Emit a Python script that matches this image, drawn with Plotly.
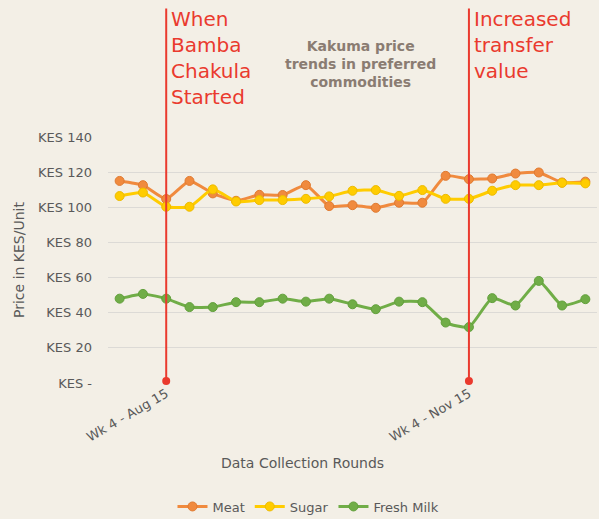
import plotly.graph_objects as go

rounds = ["Wk 2 - Aug 15", "Wk 3 - Aug 15", "Wk 4 - Aug 15", "Wk 1 - Sep 15", "Wk 2 - Sep 15",
          "Wk 3 - Sep 15", "Wk 4 - Sep 15", "Wk 5 - Sep 15", "Wk 1 - Oct 15", "Wk 2 - Oct 15",
          "Wk 3 - Oct 15", "Wk 4 - Oct 15", "Wk 1 - Nov 15", "Wk 2 - Nov 15", "Wk 3 - Nov 15",
          "Wk 4 - Nov 15", "Wk 1 - Dec 15", "Wk 2 - Dec 15", "Wk 3 - Dec 15", "Wk 4 - Dec 15",
          "Wk 1 - Jan 16"]
meat = [115, 112.6, 104.7, 115, 107.9, 103.7, 107.1, 107, 112.6, 100.7, 101.2, 99.7,
        102.6, 102.6, 117.9, 116, 116.4, 119.2, 119.8, 114.1, 114.6]
sugar = [106.4, 108.4, 100.3, 100.3, 110.2, 103.3, 104.1, 104.1, 104.8, 106.2, 109.4, 109.8,
         106.5, 109.8, 104.8, 104.8, 109.4, 112.6, 112.6, 113.9, 113.6]
milk = [48, 50.7, 48, 43.2, 43.2, 46, 46, 48, 46.3, 48, 44.8, 42, 46.3, 46, 34.4, 31.8,
        48.3, 44.1, 58.1, 44.1, 47.7]

series_names = ["Meat", "Sugar", "Fresh Milk"]
series_colors = ["#F08A3E", "#FFCC00", "#70AD47"]
marker_edges = ["#E07A30", "#EDBB00", "#62A03C"]

y_tickvals = [0, 20, 40, 60, 80, 100, 120, 140]
y_ticktext = ["KES -", "KES 20", "KES 40", "KES 60", "KES 80", "KES 100", "KES 120", "KES 140"]
x_tickvals = ["Wk 4 - Aug 15", "Wk 4 - Nov 15"]

events = ["Wk 4 - Aug 15", "Wk 4 - Nov 15"]
event_labels = ["When<br>Bamba<br>Chakula<br>Started", "Increased<br>transfer<br>value"]

FONT = "DejaVu Sans"
RED = "#EA3A2E"

fig = go.Figure()
for name, vals, col, edge in zip(series_names, [meat, sugar, milk], series_colors, marker_edges):
    fig.add_trace(go.Scatter(
        x=rounds, y=vals, name=name, mode="lines+markers",
        line=dict(color=col, width=3, shape="spline", smoothing=0.5),
        marker=dict(color=col, size=9, line=dict(color=edge, width=1)),
    ))

# event marker dots at the base of the vertical lines
fig.add_trace(go.Scatter(
    x=events, y=[1.2, 1.2], mode="markers", showlegend=False, hoverinfo="skip",
    marker=dict(color=RED, size=8), cliponaxis=False,
))

for ev, lab in zip(events, event_labels):
    fig.add_shape(type="line", xref="x", yref="paper", x0=ev, x1=ev, y0=0.005, y1=1.522,
                  line=dict(color=RED, width=2))
    fig.add_annotation(x=ev, xref="x", yref="paper", y=1.535, yanchor="top", xanchor="left",
                       xshift=3, text=lab, showarrow=False, align="left",
                       font=dict(family=FONT, size=20, color=RED))

fig.add_annotation(x=0.516, y=1.295, xref="paper", yref="paper", xanchor="center", yanchor="middle",
                   text="<b>Kakuma price<br>trends in preferred<br>commodities</b>", showarrow=False,
                   font=dict(family=FONT, size=14, color="#8A7C72"))

fig.add_annotation(x=0.398, y=-0.325, xref="paper", yref="paper", xanchor="center", yanchor="middle",
                   text="Data Collection Rounds", showarrow=False,
                   font=dict(family=FONT, size=14, color="#595959"))

fig.update_layout(
    width=599, height=519,
    margin=dict(l=107.5, r=1.5, t=136.7, b=135.7, autoexpand=False),
    paper_bgcolor="#F3EFE6", plot_bgcolor="rgba(0,0,0,0)",
    font=dict(family=FONT, color="#595959", size=13),
    showlegend=True,
    legend=dict(orientation="h", x=0.41, xanchor="center", y=-0.502, yanchor="middle",
                font=dict(family=FONT, size=13, color="#595959"), bgcolor="rgba(0,0,0,0)"),
    xaxis=dict(type="category", range=[-0.5, 20.5], tickvals=x_tickvals, ticktext=x_tickvals,
               tickangle=-30, showgrid=False, zeroline=False, showline=False,
               tickfont=dict(family=FONT, size=13, color="#595959")),
    yaxis=dict(range=[0, 140], tickvals=y_tickvals, ticktext=y_ticktext,
               showgrid=True, gridcolor="#DCDAD6", gridwidth=1, zeroline=False,
               ticklabelstandoff=15,
               tickfont=dict(family=FONT, size=13, color="#595959"),
               title=dict(text="Price in KES/Unit", standoff=10,
                          font=dict(family=FONT, size=14, color="#595959"))),
)

fig.write_html("out.html", config={"displayModeBar": False},
               post_script="document.body.style.margin='0px';document.body.style.padding='0px';"
                           "document.body.style.background='#F3EFE6';")
